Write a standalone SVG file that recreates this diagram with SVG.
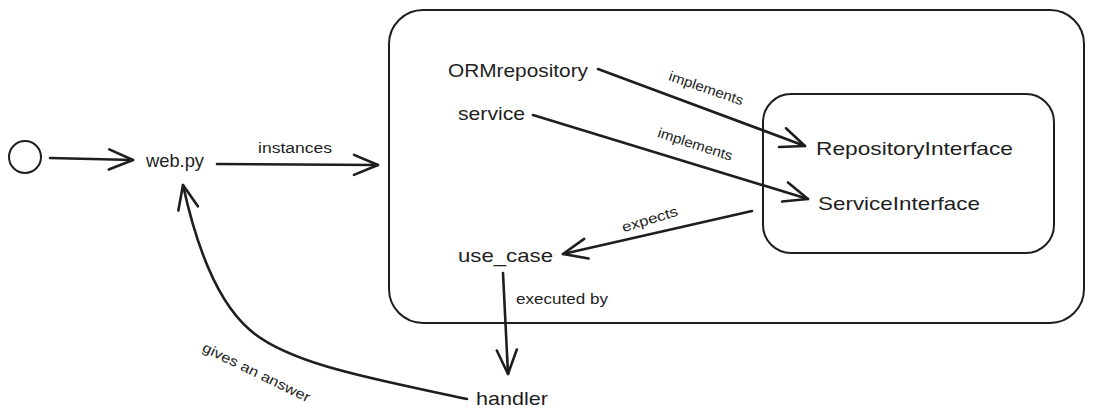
<svg xmlns="http://www.w3.org/2000/svg" width="1093" height="420" viewBox="0 0 1093 420">
<style>
.node text{font-family:"Liberation Sans",Arial,sans-serif;fill:#1e1e1e;font-size:19px}
.lbl{font-family:"Liberation Sans",Arial,sans-serif;fill:#1e1e1e;font-size:14px;text-anchor:middle}
.box{fill:none;stroke:#1e1e1e;stroke-width:2}
.edge{fill:none;stroke:#1e1e1e;stroke-width:2.6;stroke-linecap:round}
</style>
<defs>
<marker id="arr" markerUnits="userSpaceOnUse" markerWidth="40" markerHeight="40" viewBox="-30 -20 40 40" refX="0" refY="0" orient="auto" overflow="visible">
<path d="M-24,-10 L0,0 L-24,10" fill="none" stroke="#1e1e1e" stroke-width="2.6" stroke-linecap="round" stroke-linejoin="round"/>
</marker>
</defs>
<rect width="1093" height="420" fill="#ffffff"/>
<g id="start" class="node"><circle cx="25" cy="157" r="16" fill="none" stroke="#1e1e1e" stroke-width="2"/></g>
<g id="outer" class="node"><rect class="box" x="389" y="10" width="695" height="313" rx="34"/></g>
<g id="inner" class="node"><rect class="box" x="763" y="94" width="291" height="159" rx="28"/></g>
<g id="webpy" class="node"><text x="146" y="167" textLength="58" lengthAdjust="spacingAndGlyphs">web.py</text></g>
<g id="ormrepository" class="node"><text x="448" y="77" textLength="140" lengthAdjust="spacingAndGlyphs">ORMrepository</text></g>
<g id="service" class="node"><text x="458" y="120" textLength="67" lengthAdjust="spacingAndGlyphs">service</text></g>
<g id="repositoryinterface" class="node"><text x="816" y="155" textLength="197" lengthAdjust="spacingAndGlyphs">RepositoryInterface</text></g>
<g id="serviceinterface" class="node"><text x="818" y="210" textLength="162" lengthAdjust="spacingAndGlyphs">ServiceInterface</text></g>
<g id="use_case" class="node"><text x="458" y="262" textLength="95" lengthAdjust="spacingAndGlyphs">use_case</text></g>
<g id="handler" class="node"><text x="476" y="405" textLength="72" lengthAdjust="spacingAndGlyphs">handler</text></g>
<g id="connectors">
<path class="edge" d="M50,158 L133,160" marker-end="url(#arr)"/>
<path class="edge" d="M217,164 L378,165" marker-end="url(#arr)"/>
<text class="lbl" x="295" y="153" textLength="74" lengthAdjust="spacingAndGlyphs">instances</text>
<path class="edge" d="M598,69 L805,146" marker-end="url(#arr)"/>
<text class="lbl" x="706" y="93" transform="rotate(19 706 89)" textLength="78" lengthAdjust="spacingAndGlyphs">implements</text>
<path class="edge" d="M533,115 L808,199" marker-end="url(#arr)"/>
<text class="lbl" x="695" y="149" transform="rotate(18 695 145)" textLength="78" lengthAdjust="spacingAndGlyphs">implements</text>
<path class="edge" d="M752,211 L563,254" marker-end="url(#arr)"/>
<text class="lbl" x="650" y="224" transform="rotate(-17 650 220)" textLength="58" lengthAdjust="spacingAndGlyphs">expects</text>
<path class="edge" d="M503,273 L508,374" marker-end="url(#arr)"/>
<text class="lbl" x="562" y="304" textLength="92" lengthAdjust="spacingAndGlyphs">executed by</text>
<path class="edge" d="M467,399 C380,380 290,365 250,330 C215,300 195,240 183,185" marker-end="url(#arr)"/>
<text class="lbl" x="256" y="377" transform="rotate(26 256 373)" textLength="118" lengthAdjust="spacingAndGlyphs">gives an answer</text>
</g>
</svg>
